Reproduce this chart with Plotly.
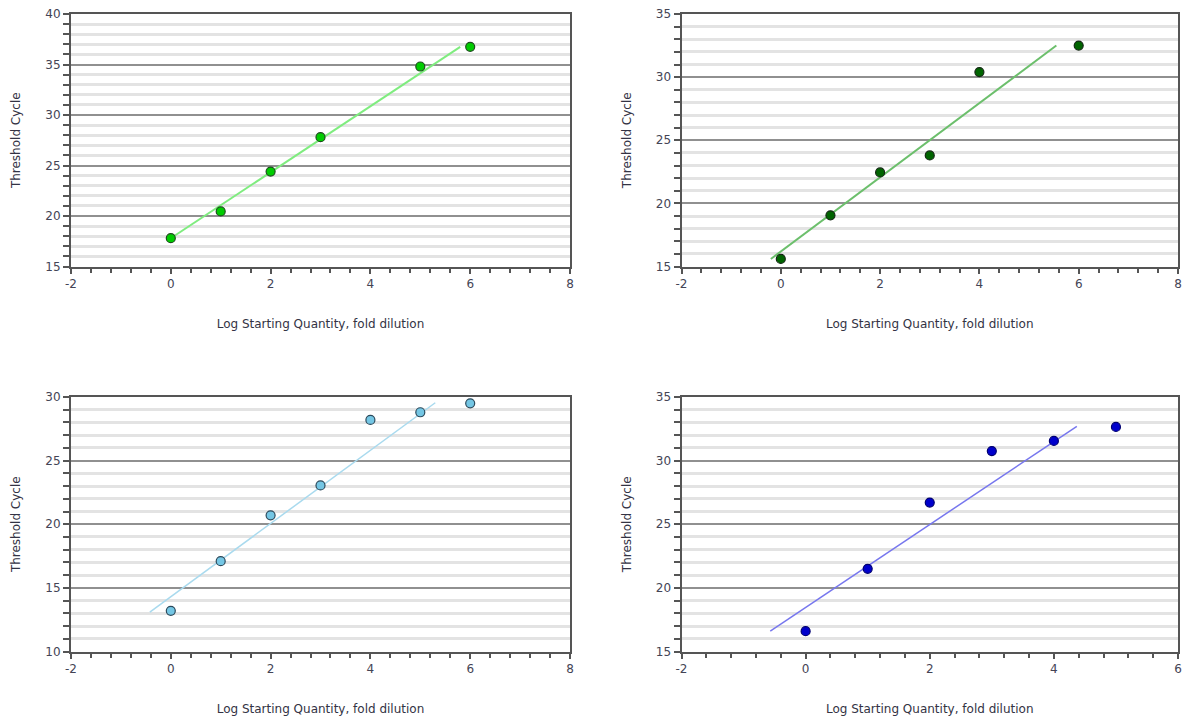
import plotly.graph_objects as go

# ---------------- data ----------------
p1_x = [0, 1, 2, 3, 5, 6]
p1_y = [17.8, 20.45, 24.4, 27.8, 34.8, 36.75]
p1_fit_x = [0, 5.8]
p1_fit_y = [17.8, 36.75]

p2_x = [0, 1, 2, 3, 4, 6]
p2_y = [15.6, 19.05, 22.45, 23.8, 30.4, 32.5]
p2_fit_x = [-0.2, 5.55]
p2_fit_y = [15.6, 32.5]

p3_x = [0, 1, 2, 3, 4, 5, 6]
p3_y = [13.2, 17.1, 20.7, 23.05, 28.2, 28.8, 29.5]
p3_fit_x = [-0.42, 5.3]
p3_fit_y = [13.1, 29.55]

p4_x = [0, 1, 2, 3, 4, 5]
p4_y = [16.6, 21.5, 26.7, 30.75, 31.55, 32.65]
p4_fit_x = [-0.57, 4.37]
p4_fit_y = [16.6, 32.7]

x_ranges = [[-2, 8], [-2, 8], [-2, 8], [-2, 6]]
y_ranges = [[15, 40], [15, 35], [10, 30], [15, 35]]

x_tick_vals_8 = [-2, 0, 2, 4, 6, 8]
x_tick_text_8 = ["-2", "0", "2", "4", "6", "8"]
x_tick_vals_6 = [-2, 0, 2, 4, 6]
x_tick_text_6 = ["-2", "0", "2", "4", "6"]

x_title = "Log Starting Quantity, fold dilution"
y_title = "Threshold Cycle"

# ---------------- styles ----------------
marker_fill = ["#00cc00", "#006400", "#74c6e4", "#0000cc"]
marker_edge = ["#1d4d1d", "#142814", "#2c4a5c", "#000070"]
line_colors = ["#7fec7f", "#6cbf6c", "#a9daee", "#7777ee"]
line_widths = [2, 2, 1.5, 1.5]

W, H = 1192, 720
left_dom = [71 / W, 570 / W]
right_dom = [681.5 / W, 1178 / W]
top_dom = [1 - 266.5 / H, 1 - 14 / H]
bot_dom = [1 - 651.5 / H, 1 - 397 / H]
x_domains = [left_dom, right_dom, left_dom, right_dom]
y_domains = [top_dom, top_dom, bot_dom, bot_dom]
x_ticks = [(x_tick_vals_8, x_tick_text_8)] * 3 + [(x_tick_vals_6, x_tick_text_6)]

FONT = "DejaVu Sans"
AX_COLOR = "#555555"
TICK_FONT = dict(family=FONT, size=12, color="#444455")
TITLE_FONT = dict(family=FONT, size=12, color="#333344")

panels = [
    (p1_x, p1_y, p1_fit_x, p1_fit_y),
    (p2_x, p2_y, p2_fit_x, p2_fit_y),
    (p3_x, p3_y, p3_fit_x, p3_fit_y),
    (p4_x, p4_y, p4_fit_x, p4_fit_y),
]

fig = go.Figure()
layout = dict(
    width=W, height=H,
    margin=dict(l=0, r=0, t=0, b=0, autoexpand=False),
    paper_bgcolor="white", plot_bgcolor="white",
    showlegend=False,
)

for i, (px, py, fx, fy) in enumerate(panels):
    n = "" if i == 0 else str(i + 1)
    xa, ya = "x" + n, "y" + n
    fig.add_trace(go.Scatter(
        x=fx, y=fy, mode="lines", xaxis=xa, yaxis=ya,
        line=dict(color=line_colors[i], width=line_widths[i]),
        hoverinfo="skip",
    ))
    fig.add_trace(go.Scatter(
        x=px, y=py, mode="markers", xaxis=xa, yaxis=ya,
        marker=dict(size=9, color=marker_fill[i],
                    line=dict(color=marker_edge[i], width=1.2)),
    ))
    tv, tt = x_ticks[i]
    layout["xaxis" + n] = dict(
        domain=x_domains[i], anchor=ya, range=x_ranges[i], automargin=False,
        tickmode="array", tickvals=tv, ticktext=tt,
        showgrid=False, zeroline=False,
        showline=True, linecolor=AX_COLOR, linewidth=2, mirror=True,
        ticks="outside", ticklen=5, tickwidth=1.5, tickcolor=AX_COLOR,
        tickfont=TICK_FONT,
        minor=dict(dtick=0.4, tick0=0, ticks="outside", ticklen=4,
                   tickwidth=1.5, tickcolor=AX_COLOR, showgrid=False),
        title=dict(text=x_title, font=TITLE_FONT, standoff=30),
    )
    layout["yaxis" + n] = dict(
        domain=y_domains[i], anchor=xa, range=y_ranges[i], automargin=False,
        dtick=5, tick0=0, zeroline=False,
        showgrid=True, gridcolor="#909090", gridwidth=1.5,
        showline=True, linecolor=AX_COLOR, linewidth=2, mirror=True,
        ticks="outside", ticklen=6, tickwidth=1.5, tickcolor=AX_COLOR,
        tickfont=TICK_FONT,
        minor=dict(dtick=1, tick0=0, ticks="outside", ticklen=6,
                   tickwidth=1.5, tickcolor=AX_COLOR,
                   showgrid=True, gridcolor="#e3e3e3", gridwidth=2.5),
        title=dict(text=y_title, font=TITLE_FONT, standoff=22),
    )

fig.update_layout(**layout)
fig.write_html(
    "out.html",
    config={"displayModeBar": False},
    post_script="document.body.style.margin='0';document.body.style.padding='0';",
)
